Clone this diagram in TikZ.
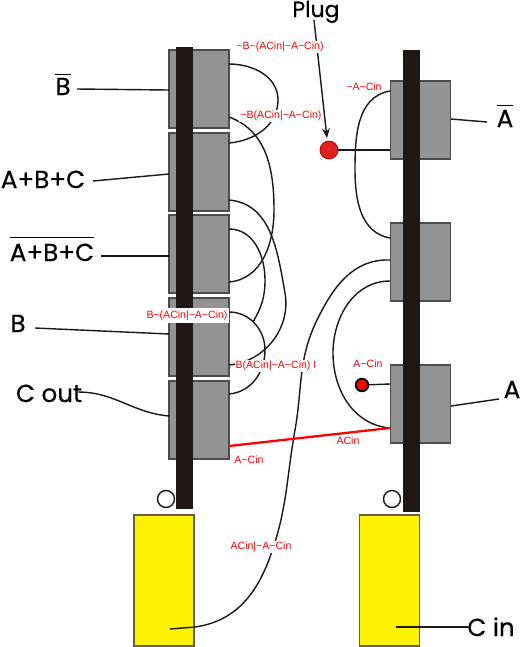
\documentclass[tikz,border=0pt]{standalone}
\usepackage{fontspec}
\setmainfont{Liberation Sans}
\newfontfamily\bigfont[FakeBold=0.5]{Poppins}
\usepackage{xcolor}
\definecolor{gategray}{HTML}{939393}
\definecolor{gateedge}{HTML}{4C4C4C}
\definecolor{barblack}{HTML}{1E1716}
\definecolor{plugred}{HTML}{E0201B}
\colorlet{yellowblock}{yellow}
\newcommand{\tl}{\textasciitilde}
\newcommand{\barred}[2]{$\overline{\mbox{\rule{0pt}{#1}#2}}$}
\usetikzlibrary{arrows.meta}

\begin{document}
\begin{tikzpicture}[
  x=0.02cm, y=-0.02cm,
  gate/.style={
    rectangle, minimum width=1.2cm, minimum height=1.56cm,
    inner sep=0pt, draw=gateedge, fill=gategray, line width=0.6pt
  },
  rail/.style={
    rectangle, minimum width=0.34cm, inner sep=0pt, fill=barblack
  },
  cell/.style={
    rectangle, minimum width=1.2cm, minimum height=2.62cm,
    inner sep=0pt, draw=black!70!yellow, fill=yellowblock, line width=0.6pt
  },
  sig/.style={
    font=\fontsize{6}{7}\selectfont, text=red, fill=white,
    inner sep=0.6pt
  },
  pin/.style={font=\bigfont\fontsize{14}{16}\selectfont, inner sep=0pt, anchor=base},
  wire/.style={line width=0.8pt, color=barblack},
  ring/.style={circle, minimum size=0.34cm, inner sep=0pt, draw=barblack, fill=white, line width=0.8pt}
]
\fill[white] (0,0) rectangle (520,647);
\useasboundingbox (0,0) rectangle (520,647);

% left column
\node[gate] (g1) at (199,89) {};
\node[gate] (g2) at (199,172) {};
\node[gate] (g3) at (199,254) {};
\node[gate] (g4) at (199,337) {};
\node[gate] (g5) at (199,420) {};
\node[rail, minimum height=9.24cm] (railL) at (184.5,278) {};

% right column
\node[gate] (g6) at (420.5,120) {};
\node[gate] (g7) at (420.5,262) {};
\node[gate] (g8) at (420.5,404) {};
\node[rail, minimum height=9.24cm] (railR) at (411.5,281) {};

\node[cell] (cellL) at (164,580.5) {};
\node[cell] (cellR) at (389.5,580.5) {};
\node[ring] (ringL) at (166,499) {};
\node[ring] (ringR) at (392,499) {};

\node[circle, minimum size=0.36cm, inner sep=0pt, draw=red!60!black, fill=plugred] (plug) at (329,150) {};
\node[circle, minimum size=0.25cm, inner sep=0pt, draw=black, fill=red, line width=1.1pt] (dot) at (362,385) {};

% pins on the gates
\foreach \n/\x/\y in {
  a1/229/64, a2/229/143, a3/229/117, a4/229/282, a5/229/200, a6/229/365,
  a7/229/229, a8/229/312, a9/229/394, a10/229/446, a11/170/629,
  b1/390/91, b2/390/238, b3/390/260, b4/390/281, b5/390/428, b6/390/150, b7/390/384,
  t1/77/89, t2/169/90, t3/93/181, t4/169/174, t5/101/256, t6/169/256,
  t7/35/328, t8/169/334, t9/78/392, t10/169/416,
  t11/451/119, t12/487/122, t13/451/406, t14/499/399, t15/396/627, t16/468/627,
  j1/253/322, s1/314/20, s2/327/138} {
  \coordinate (\n) at (\x,\y);
}

% wires
\draw[wire] (a1) to[out=0,in=90] (278,100) to[out=-90,in=5] (a2);
\draw[wire] (a3) to[out=-20,in=90] (274,210) to[out=-90,in=5] (a4);
\draw[wire] (a5) to[out=-5,in=100] (285,293) to[out=-80,in=5] (a6);
\draw[wire] (a7) to[out=0,in=90] (265,280) to[out=-90,in=60] (j1);
\draw[wire] (a8) to[out=0,in=90] (265,350) to[out=-90,in=5] (a9);
\draw[wire] (a11) -- (195,627) to[out=8,in=-110] (270,557)
  to[out=70,in=-100] (295,430) to[out=80,in=-116] (317,320) to[out=64,in=178] (b3);
\draw[wire] (b1) to[out=190,in=90] (355,170) to[out=-90,in=170] (b2);
\draw[wire] (b4) to[out=180,in=90] (333,353) to[out=-90,in=175] (b5);
\draw[wire] (plug) -- (b6);
\draw[wire] (dot) -- (b7);
\draw[red, line width=1.3pt] (a10) -- (b5);

% outer pins
\draw[wire] (t1) -- (t2);
\draw[wire] (t3) -- (t4);
\draw[wire] (t5) -- (t6);
\draw[wire] (t7) -- (t8);
\draw[wire] (t9) to[out=0,in=175] (t10);
\draw[wire] (t11) -- (t12);
\draw[wire] (t13) -- (t14);
\draw[wire] (t15) -- (t16);
\draw[-{Stealth[length=5.5pt,width=4.5pt]}, wire] (s1) -- (s2);

% pin names
\node[pin, font=\bigfont\fontsize{12.5}{15}\selectfont] (plugname) at (316,17) {Plug};
\node[pin] (nB) at (63,95) {\barred{10.5pt}{B}};
\node[pin] (nABC) at (43,188) {A+B+C};
\node[pin] (nnABC) at (52,261) {\barred{12pt}{A+B+C}};
\node[pin] (B) at (18,332) {B};
\node[pin] (Cout) at (49,402) {C out};
\node[pin] (nA) at (505,127) {\barred{11pt}{A}};
\node[pin] (A) at (512,398) {A};
\node[pin] (Cin) at (491,636) {C in};

% signal names
\node[sig] (s1name) at (280,47) {\tl B\tl(ACin|\tl A\tl Cin)};
\node[sig] (s2name) at (281,116) {\tl B(ACin|\tl A\tl Cin)};
\node[sig, minimum width=1.7cm, minimum height=0.3cm] (s3name) at (187,315.5) {B\tl(ACin|\tl A\tl Cin)};
\node[sig] (s4name) at (276,366) {B(ACin|\tl A\tl Cin) I};
\node[sig] (s5name) at (364,87) {\tl A\tl Cin};
\node[sig] (s6name) at (368,364) {A\tl Cin};
\node[sig] (s7name) at (348,441) {ACin};
\node[sig] (s8name) at (249,460) {A\tl Cin};
\node[sig] (s9name) at (261,547) {ACin|\tl A\tl Cin};
\end{tikzpicture}
\end{document}
